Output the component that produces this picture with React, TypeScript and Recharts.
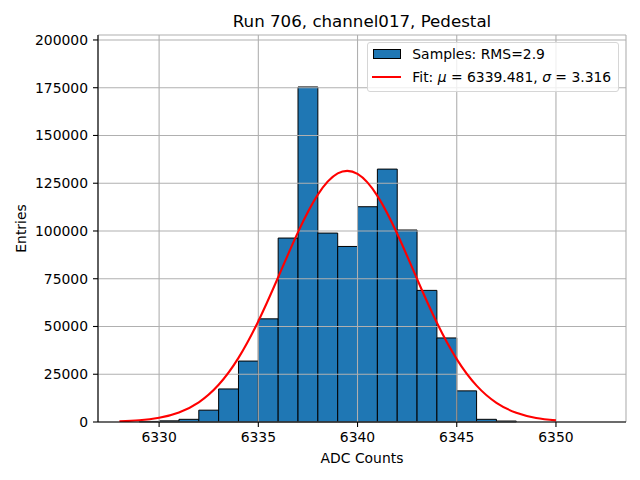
import React from 'react';
import { ComposedChart, Line, XAxis, YAxis, CartesianGrid, ReferenceArea } from 'recharts';

// Histogram bins (edges) and counts
const binEdges = [6329, 6330, 6331, 6332, 6333, 6334, 6335, 6336, 6337, 6338, 6339, 6340, 6341, 6342, 6343, 6344, 6345, 6346, 6347, 6348];
const counts = [300, 600, 1400, 6200, 17300, 31900, 54000, 96300, 175400, 98900, 91900, 112700, 132400, 100500, 68900, 44000, 16300, 1400, 500];

// Fit curve samples
const fitX = [6328, 6329, 6330, 6331, 6332, 6333, 6334, 6335, 6336, 6337, 6338, 6339, 6340, 6341, 6342, 6343, 6344, 6345, 6346, 6347, 6348, 6349, 6350];
const fitY = [328, 890, 2206, 4996, 10320, 19473, 33548, 52772, 75797, 99394, 119018, 130123, 129900, 118404, 98543, 74880, 51954, 32916, 19044, 10056, 4850, 2136, 858];

const xTicks = [6330, 6335, 6340, 6345, 6350];
const yTicks = [0, 25000, 50000, 75000, 100000, 125000, 150000, 175000, 200000];
const xDomain = [6326.92, 6353.53];
const yDomain = [0, 202600];

const title = 'Run 706, channel017, Pedestal';
const xLabel = 'ADC Counts';
const yLabel = 'Entries';
const sampleLabel = 'Samples: RMS=2.9';
const fitMu = '6339.481';
const fitSigma = '3.316';

const FONT = '"DejaVu Sans", sans-serif';
const FS = 13.9;

const data = fitX.map((x, i) => ({ x, fit: fitY[i] }));

export default function App() {
  return (
    <div style={{ position: 'absolute', left: 0, top: 0, width: 640, height: 480, background: '#fff' }}>
      <div
        style={{
          position: 'absolute', left: 98, top: 11.5, width: 528, textAlign: 'center',
          fontFamily: FONT, fontSize: 16.67, lineHeight: '20px', color: '#000',
        }}
      >
        {title}
      </div>
      <ComposedChart width={640} height={480} data={data} margin={{ top: 35, right: 14, bottom: 0, left: 0 }}>
        {counts.map((c, i) => (
          <ReferenceArea
            key={'b' + i}
            x1={binEdges[i]}
            x2={binEdges[i + 1]}
            y1={0}
            y2={c}
            fill="#1f77b4"
            fillOpacity={1}
            stroke="#000"
            strokeWidth={1}
            zIndex={300}
          />
        ))}
        <CartesianGrid stroke="#b0b0b0" strokeWidth={1.1} zIndex={350} />
        <XAxis
          dataKey="x"
          type="number"
          domain={xDomain}
          allowDataOverflow
          ticks={xTicks}
          interval={0}
          height={58}
          tickSize={5}
          tickMargin={5}
          axisLine={{ stroke: '#000', strokeWidth: 1.1 }}
          tickLine={{ stroke: '#000', strokeWidth: 1.1 }}
          tick={{ fill: '#000', fontSize: FS, fontFamily: FONT }}
          label={{ value: xLabel, position: 'insideBottom', offset: 17.5, fill: '#000', fontSize: FS, fontFamily: FONT }}
        />
        <XAxis
          xAxisId="top"
          orientation="top"
          dataKey="x"
          type="number"
          domain={xDomain}
          allowDataOverflow
          height={0}
          tick={false}
          tickLine={false}
          axisLine={{ stroke: '#000', strokeWidth: 1.1 }}
        />
        <YAxis
          type="number"
          domain={yDomain}
          allowDataOverflow
          ticks={yTicks}
          interval={0}
          width={98}
          tickSize={5}
          tickMargin={5}
          axisLine={{ stroke: '#000', strokeWidth: 1.1 }}
          tickLine={{ stroke: '#000', strokeWidth: 1.1 }}
          tick={{ fill: '#000', fontSize: FS, fontFamily: FONT }}
          label={{
            value: yLabel, angle: -90, position: 'insideLeft', offset: 21,
            style: { textAnchor: 'middle' }, fill: '#000', fontSize: FS, fontFamily: FONT,
          }}
        />
        <YAxis
          yAxisId="right"
          orientation="right"
          type="number"
          domain={yDomain}
          allowDataOverflow
          width={0}
          tick={false}
          tickLine={false}
          axisLine={{ stroke: '#000', strokeWidth: 1.1 }}
        />
        <Line
          type="natural"
          dataKey="fit"
          stroke="#ff0000"
          strokeWidth={2.1}
          dot={false}
          activeDot={false}
          isAnimationActive={false}
          zIndex={400}
        />
      </ComposedChart>
      <div
        style={{
          position: 'absolute', left: 367.3, top: 42.3, width: 251.7, height: 49.4,
          boxSizing: 'border-box', border: '1px solid #d6d6d6', borderRadius: 3,
          background: 'rgba(255,255,255,0.8)', fontFamily: FONT, fontSize: FS, color: '#000',
        }}
      >
        <div
          style={{
            position: 'absolute', left: 4.4, top: 6, width: 28, height: 10,
            boxSizing: 'border-box', border: '1px solid #000', background: '#1f77b4',
          }}
        />
        <div style={{ position: 'absolute', left: 44, top: 3.2, lineHeight: '16px', whiteSpace: 'nowrap' }}>
          {sampleLabel}
        </div>
        <div style={{ position: 'absolute', left: 4, top: 32.4, width: 28.7, height: 2, background: '#ff0000' }} />
        <div style={{ position: 'absolute', left: 44, top: 25.6, lineHeight: '16px', whiteSpace: 'nowrap' }}>
          Fit: <i>μ</i> = {fitMu}, <i>σ</i> = {fitSigma}
        </div>
      </div>
    </div>
  );
}
